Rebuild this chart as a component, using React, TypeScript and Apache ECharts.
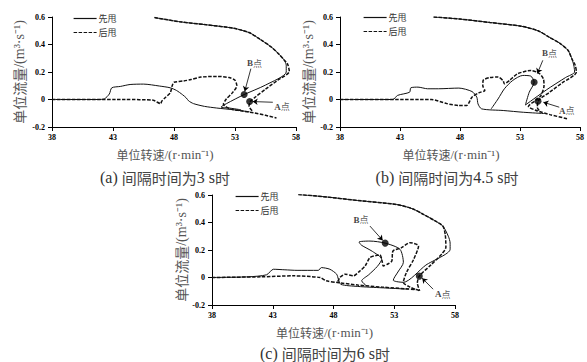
import React, { useEffect, useRef } from "react";
import * as echarts from "echarts";

// ---------- data ----------
const xTicks = [38, 43, 48, 53, 58];
const yTicks = [-0.2, 0, 0.2, 0.4, 0.6];
const seriesNames = ["先甩", "后甩"];
const captions = ["(a) |间隔时间为|3 s|时", "(b) |间隔时间为|4.5 s|时", "(c) |间隔时间为|6 s|时"];

// panel (a) 3 s
const aTop = [[46.4, 0.596], [48.5, 0.565], [50.5, 0.545], [52.9, 0.518], [54.2, 0.485], [55.1, 0.435], [56.0, 0.38], [56.6, 0.33], [57.0, 0.29]];
const aSolidRun = [[57.2, 0.25], [57.2, 0.2], [55.5, 0.105], [53.75, 0.036], [52.3, -0.03], [51.85, -0.055], [52.6, -0.063], [53.5, -0.075]];
const aDashRun = [[57.3, 0.26], [57.45, 0.205], [56.5, 0.14], [55.5, 0.075], [54.7, 0.02], [54.25, -0.015], [54.15, -0.05], [54.5, -0.09]];
const aSolidLeft = [[38, 0], [41.8, 0], [42.3, 0.005], [42.7, 0.04], [42.9, 0.085], [43.6, 0.095], [44.4, 0.109], [45.5, 0.112], [46.8, 0.098], [47.7, 0.085], [48.2, 0.066], [48.7, 0.035], [49.0, 0.012], [49.2, -0.01], [49.6, -0.03], [50.5, -0.05], [51.5, -0.062], [53.0, -0.076], [54.2, -0.09]];
const aDashLeft = [[38, 0], [44, 0], [46.3, -0.005], [46.6, -0.018], [46.9, -0.03], [47.0, -0.012], [47.3, 0.015], [47.7, 0.05], [47.85, 0.1], [48.0, 0.125], [48.8, 0.135], [49.4, 0.145], [50.2, 0.163], [51.5, 0.168], [52.5, 0.16], [53.0, 0.14], [53.15, 0.1], [52.8, 0.05], [52.3, 0.005], [52.05, -0.035], [52.6, -0.068], [53.5, -0.082], [54.5, -0.096], [55.5, -0.115], [56.4, -0.134]];
const aPoints = [["A", 54.2, -0.015], ["B", 53.75, 0.036]];
const aLabels = [["A", 56.85, -0.051], ["B", 54.6, 0.263]];
const aArrows = [[56.1, -0.02, 54.45, -0.015], [54.3, 0.224, 53.8, 0.06]];

// panel (b) 4.5 s
const bTop = [[45.8, 0.6], [48, 0.585], [50.5, 0.56], [53.1, 0.533], [54.5, 0.5], [55.4, 0.455], [56.3, 0.41], [57.0, 0.358], [57.35, 0.29]];
const bSolidRun = [[57.5, 0.24], [57.55, 0.2], [56.8, 0.16], [55.2, 0.07], [53.45, -0.04], [53.77, 0.053], [54.18, 0.126], [53.9, 0.17], [53.23, 0.175], [52.4, 0.139], [51.7, 0.078], [51.17, 0.004], [50.6, -0.068]];
const bDashRun = [[57.6, 0.25], [57.7, 0.2], [56.5, 0.12], [55.5, 0.055], [54.5, -0.012], [54.45, -0.06], [54.7, -0.09]];
const bSolidLeft = [[38, 0], [42.4, 0], [42.8, 0.03], [43.8, 0.053], [43.9, 0.085], [44.5, 0.09], [45.3, 0.078], [46.2, 0.078], [47.9, 0.083], [49.0, 0.058], [49.4, 0.017], [49.5, -0.032], [49.8, -0.068], [51.6, -0.08], [53.3, -0.093], [55.0, -0.102]];
const bDashLeft = [[38, 0], [45.6, 0], [46.9, -0.03], [47.9, -0.044], [48.56, -0.043], [49.0, 0.017], [49.6, 0.05], [50.07, 0.066], [49.9, 0.1], [49.93, 0.139], [50.5, 0.16], [51.17, 0.163], [51.6, 0.135], [51.7, 0.114], [52.13, 0.139], [52.8, 0.187], [53.9, 0.211], [54.6, 0.19], [54.95, 0.15], [55.0, 0.1], [54.74, 0.029], [54.3, -0.007], [53.7, -0.05], [54.3, -0.078], [55.5, -0.11], [57.0, -0.141]];
const bPoints = [["A", 54.5, -0.012], ["B", 54.18, 0.126]];
const bLabels = [["A", 56.9, -0.08], ["B", 55.45, 0.336]];
const bArrows = [[56.27, -0.056, 54.95, -0.02], [54.9, 0.285, 54.45, 0.19]];

// panel (c) 6 s
const cTop = [[45.1, 0.604], [47.5, 0.585], [50, 0.56], [53.2, 0.531], [54.5, 0.5], [55.4, 0.459], [56.3, 0.415], [57.0, 0.374]];
const cSolidRun = [[57.45, 0.3], [57.6, 0.25], [57.6, 0.205], [55.6, 0.09], [53.75, -0.035], [53.2, -0.03], [52.92, -0.02], [53.3, 0.04], [53.75, 0.11], [53.47, 0.205], [52.25, 0.25], [51.0, 0.265], [50.1, 0.258], [50.3, 0.235], [51.2, 0.19], [51.97, 0.133], [51.6, 0.08], [50.9, 0.02], [50.32, -0.024], [50.7, -0.06]];
const cDashRun = [[57.2, 0.31], [57.25, 0.22], [56.9, 0.17], [56.0, 0.09], [55.06, 0.01], [54.9, -0.04], [55.1, -0.097]];
const cSolidLeft = [[38, 0], [41, 0.005], [42.5, 0.02], [43.05, 0.06], [44, 0.056], [45, 0.052], [46.75, 0.052], [47.0, 0.072], [47.7, 0.06], [48.26, 0.024], [48.4, -0.012], [48.6, -0.05], [50, -0.065], [52, -0.075], [54.2, -0.085]];
const cDashLeft = [[38, 0], [42, 0.005], [44.7, 0.012], [46.9, 0.0], [47.4, -0.024], [48.3, -0.036], [50, -0.055], [52, -0.07], [54.8, -0.088], [55.1, -0.097]];
const cDashMid = [[48.35, -0.03], [48.53, 0.0], [48.95, 0.024], [49.63, 0.012], [50.18, 0.048], [50.6, 0.084], [51.0, 0.145], [51.5, 0.16], [51.83, 0.164], [52.0, 0.12], [52.1, 0.084], [52.5, 0.1], [52.8, 0.12], [52.9, 0.193], [53.6, 0.217], [54.3, 0.253], [55.0, 0.229], [54.6, 0.132], [54.0, 0.036], [53.75, -0.036], [54.3, -0.07], [54.8, -0.088]];
const cPoints = [["A", 55.06, 0.01], ["B", 52.25, 0.25]];
const cLabels = [["A", 57.0, -0.12], ["B", 50.26, 0.42]];
const cArrows = [[56.2, -0.085, 55.3, -0.005], [51.0, 0.374, 52.05, 0.27]];

// ---------- layout / style ----------
const serif = "'Liberation Serif', 'Times New Roman', serif";
const cjk = "'Noto Sans CJK SC', sans-serif";
const ink = "#111";

const panels = [
  { grid: { left: 52, top: 17, width: 244, height: 110 }, yGap: 26, legend: { left: 73, top: 14 }, cap: [165, 177],
    solid: [aSolidLeft, aTop.concat(aSolidRun)], dashed: [aDashLeft, aTop.concat(aDashRun)], pts: aPoints, labs: aLabels, arrows: aArrows },
  { grid: { left: 340, top: 17, width: 243, height: 110 }, yGap: 25, legend: { left: 363, top: 13 }, cap: [447, 177],
    solid: [bSolidLeft, bTop.concat(bSolidRun)], dashed: [bDashLeft, bTop.concat(bDashRun)], pts: bPoints, labs: bLabels, arrows: bArrows },
  { grid: { left: 212, top: 195, width: 243, height: 110 }, yGap: 21, legend: { left: 235, top: 192 }, cap: [325, 353],
    solid: [cSolidLeft, cTop.concat(cSolidRun)], dashed: [cDashLeft, cDashMid, cTop.concat(cDashRun)], pts: cPoints, labs: cLabels, arrows: cArrows },
];

function buildOption() {
  const grid: any[] = [];
  const xAxis: any[] = [];
  const yAxis: any[] = [];
  const legend: any[] = [];
  const series: any[] = [];
  const graphic: any[] = [];

  panels.forEach((p, i) => {
    grid.push(p.grid);
    xAxis.push({
      type: "value", gridIndex: i, min: 38, max: 58,
      axisLine: { onZero: false, lineStyle: { color: "#000", width: 1 } },
      axisTick: { show: true, length: 4, customValues: xTicks, lineStyle: { color: "#000" } },
      axisLabel: { customValues: xTicks, margin: 6, fontFamily: serif, fontWeight: "bold", fontSize: 8, color: "#000" },
      splitLine: { show: false },
      name: "{c|单位转速}{s|/(r·min⁻¹)}",
      nameLocation: "middle", nameGap: 21,
      nameTextStyle: {
        padding: [0, 18, 0, 0],
        rich: {
          c: { fontFamily: cjk, fontSize: 12, color: "#555" },
          s: { fontFamily: serif, fontSize: 13, color: "#555" },
        },
      },
    });
    yAxis.push({
      type: "value", gridIndex: i, min: -0.2, max: 0.6,
      axisLine: { show: true, onZero: false, lineStyle: { color: "#000", width: 1 } },
      axisTick: { show: true, length: 4, customValues: yTicks, lineStyle: { color: "#000" } },
      axisLabel: {
        customValues: yTicks, margin: 7, fontFamily: serif, fontWeight: "bold", fontSize: 8, color: "#000",
        formatter: (v: number) => String(Math.round(v * 10) / 10),
      },
      splitLine: { show: false },
      name: "{c|单位流量}{s|/(m³·s⁻¹)}",
      nameLocation: "middle", nameGap: p.yGap,
      nameTextStyle: {
        rich: {
          c: { fontFamily: cjk, fontSize: 14, color: "#555" },
          s: { fontFamily: serif, fontSize: 14, color: "#555" },
        },
      },
    });
    legend.push({
      left: p.legend.left, top: p.legend.top, orient: "vertical", padding: 0,
      itemWidth: 23, itemHeight: 10, itemGap: 5, data: seriesNames,
      itemStyle: { opacity: 0 },
      lineStyle: { width: 1.2 },
      textStyle: { fontFamily: cjk, fontSize: 9, color: "#333", padding: [0, 0, 0, -3] },
    });
    p.solid.forEach((seg) => {
      series.push({
        type: "line", name: seriesNames[0], xAxisIndex: i, yAxisIndex: i, data: seg,
        symbol: "none", smooth: 0.25, color: ink, itemStyle: { color: ink },
        lineStyle: { color: ink, width: 1, type: "solid" },
      });
    });
    p.dashed.forEach((seg) => {
      series.push({
        type: "line", name: seriesNames[1], xAxisIndex: i, yAxisIndex: i, data: seg,
        symbol: "none", smooth: 0.25, color: ink, itemStyle: { color: ink },
        lineStyle: { color: ink, width: 1.5, type: [3.5, 1.5] },
      });
    });
    series.push({
      type: "scatter", name: "pts" + i, xAxisIndex: i, yAxisIndex: i, z: 5,
      symbol: "circle", symbolSize: 7, itemStyle: { color: "#000" },
      data: p.pts.map((d) => ({ name: d[0], value: [d[1], d[2]] })),
      markLine: {
        silent: true, symbol: ["none", "arrow"], symbolSize: 5,
        lineStyle: { color: "#000", width: 0.8, type: "solid" }, label: { show: false },
        data: p.arrows.map((a) => [{ coord: [a[0], a[1]] }, { coord: [a[2], a[3]] }]),
      },
    });
    series.push({
      type: "scatter", name: "labs" + i, xAxisIndex: i, yAxisIndex: i, z: 6,
      symbol: "circle", symbolSize: 1, itemStyle: { color: "rgba(0,0,0,0)" },
      data: p.labs.map((d) => ({ name: d[0], value: [d[1], d[2]] })),
      label: {
        show: true, position: "inside",
        formatter: (q: any) => `{b|${q.name}}{c|点}`,
        rich: {
          b: { fontFamily: serif, fontWeight: "bold", fontSize: 9, color: "#111" },
          c: { fontFamily: cjk, fontSize: 9, color: "#333" },
        },
      },
    });
    const parts = captions[i].split("|");
    graphic.push({
      type: "text", x: p.cap[0], y: p.cap[1],
      style: {
        text: `{s|${parts[0]}}{c|${parts[1]}}{s|${parts[2]}}{c|${parts[3]}}`,
        align: "center", verticalAlign: "middle",
        rich: {
          s: { fontFamily: serif, fontSize: 16, fill: "#333" },
          c: { fontFamily: cjk, fontSize: 15, fill: "#444" },
        },
      },
    });
  });

  return { animation: false, backgroundColor: "#fff", grid, xAxis, yAxis, legend, series, graphic };
}

export default function App() {
  const ref = useRef<HTMLDivElement>(null);
  useEffect(() => {
    if (!ref.current) return;
    const chart = echarts.init(ref.current, undefined, { renderer: "svg" });
    chart.setOption(buildOption() as any);
    return () => chart.dispose();
  }, []);
  return (
    <div
      ref={ref}
      style={{ position: "fixed", left: 0, top: 0, width: 587, height: 362, background: "#fff" }}
    />
  );
}
